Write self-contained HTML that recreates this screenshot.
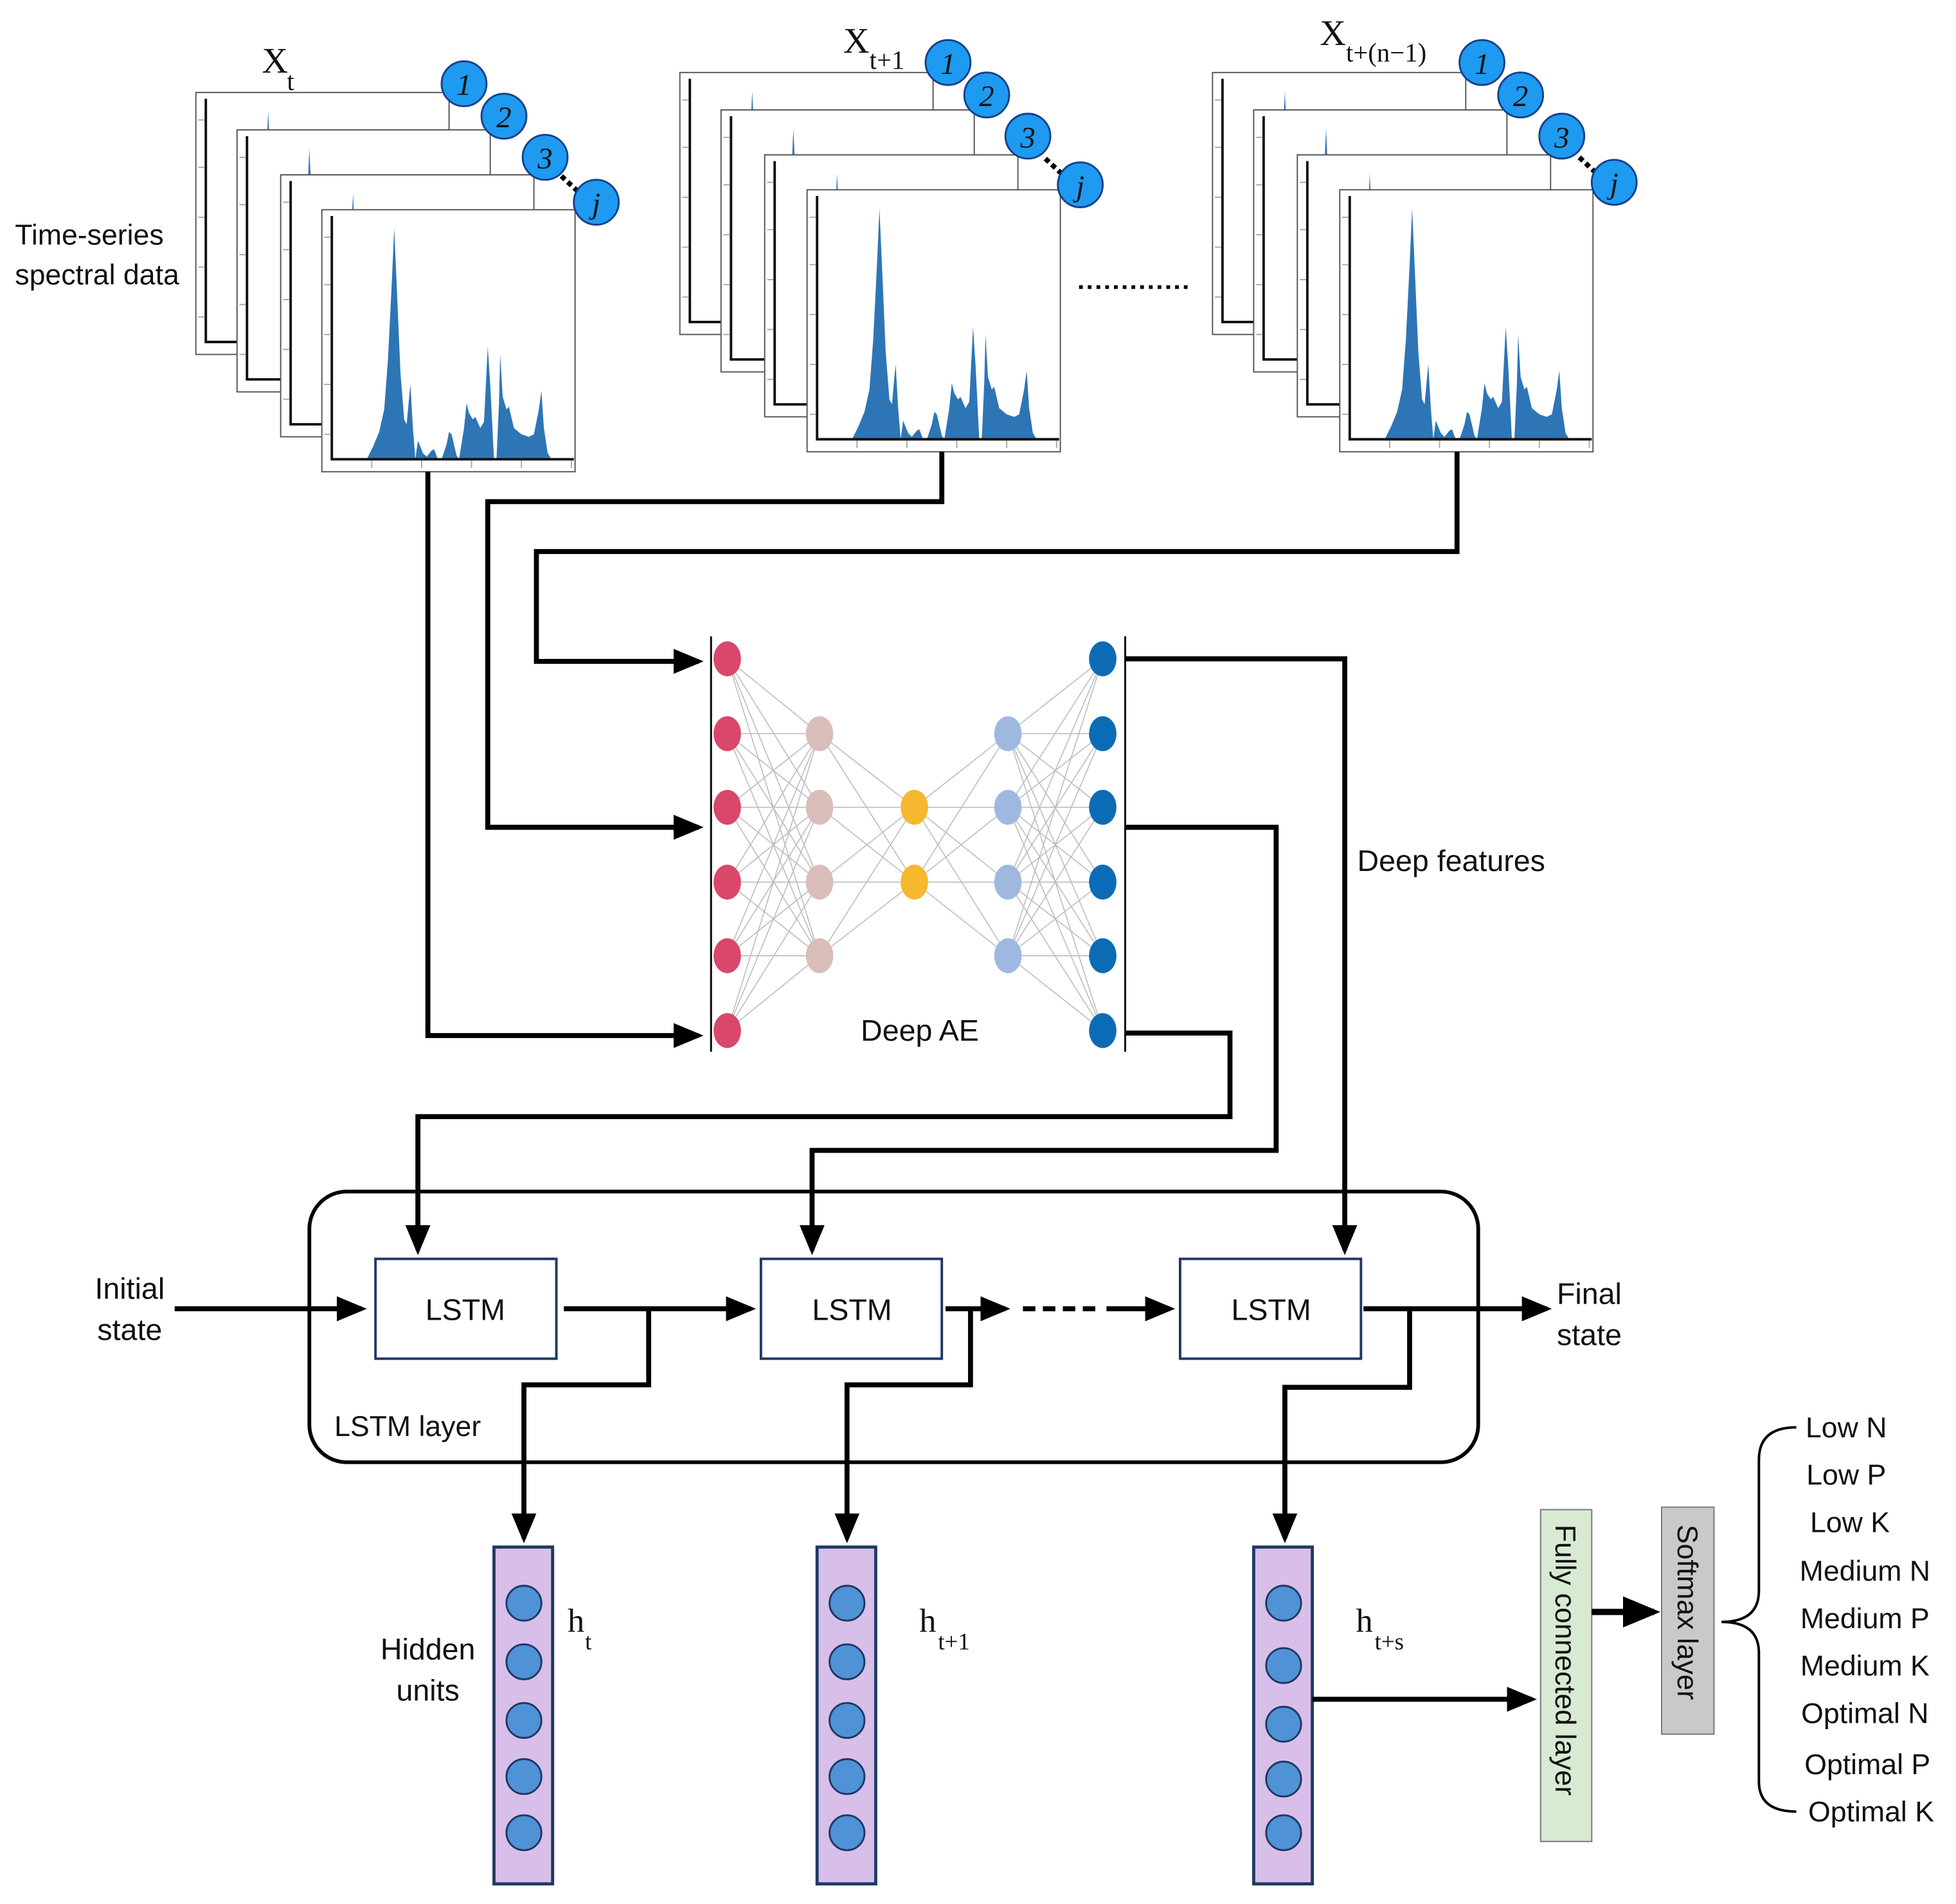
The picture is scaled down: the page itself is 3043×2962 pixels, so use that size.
<!DOCTYPE html>
<html><head><meta charset="utf-8"><style>
html,body{margin:0;padding:0;background:#fff;}
svg{display:block;}
text{font-family:"Liberation Sans",sans-serif;fill:#111;}
.s{font-family:"Liberation Serif",serif;}
</style></head><body>
<svg width="3043" height="2962" viewBox="0 0 1568 1526" xmlns="http://www.w3.org/2000/svg">
<defs>
<marker id="ar" markerWidth="6" markerHeight="6" refX="5" refY="3" orient="auto" markerUnits="strokeWidth">
<path d="M0,0.5 L6,3 L0,5.5 Z" fill="#000"/></marker>
<g id="frame">
<rect x="0" y="0" width="203" height="210" fill="#fff" stroke="#555" stroke-width="1"/>
<path d="M32,200 L34,196 37,190 42,178 46,160 49,120 52,60 54,15 56,60 59,130 62,168 64,172 66,150 67,140 69,175 71,200 73,185 75,190 77,195 80,198 84,193 86,192 89,200 92,200 96,188 98,178 100,180 104,197 106,200 110,175 112,155 114,163 117,168 119,166 123,175 126,170 129,110 131,140 134,200 136,200 138,155 139,116 141,150 144,160 146,158 150,175 156,180 162,182 166,180 170,160 172,145 174,175 177,195 180,200 Z" transform="translate(4,0)" fill="#2e75b6"/>
<path d="M8,5 L8,200 L202,200" fill="none" stroke="#111" stroke-width="2"/>
<path d="M2,22 h5 M2,60 h5 M2,100 h5 M2,140 h5 M2,180 h5 M40,201 v6 M80,201 v6 M120,201 v6 M160,201 v6 M200,201 v6" stroke="#aaa" stroke-width="1"/>
</g>
</defs>

<!-- group 1 -->
<text x="210" y="58" class="s" font-size="29">X</text><text x="230" y="72" class="s" font-size="21">t</text>
<use href="#frame" x="157" y="74"/>
<use href="#frame" x="190" y="104"/>
<use href="#frame" x="225" y="140"/>
<use href="#frame" x="258" y="168"/>
<text x="12" y="196" font-size="23">Time-series</text>
<text x="12" y="228" font-size="23">spectral data</text>
<line x1="450" y1="141" x2="464" y2="154" stroke="#000" stroke-width="4" stroke-dasharray="4,3"/>
<g fill="#1e9af0" stroke="#17408a" stroke-width="1.5">
<circle cx="372" cy="67" r="18"/><circle cx="404" cy="93" r="18"/><circle cx="437" cy="126" r="18"/><circle cx="478" cy="162" r="18"/></g>
<g font-size="24" font-style="italic" text-anchor="middle">
<text x="372" y="76" class="s">1</text><text x="404" y="102" class="s">2</text><text x="437" y="135" class="s">3</text><text x="478" y="171" class="s">j</text></g>

<!-- group 2 -->
<text x="676" y="42" class="s" font-size="29">X</text><text x="697" y="55" class="s" font-size="21">t+1</text>
<use href="#frame" x="545" y="58"/>
<use href="#frame" x="578" y="88"/>
<use href="#frame" x="613" y="124"/>
<use href="#frame" x="647" y="152"/>
<line x1="838" y1="127" x2="852" y2="140" stroke="#000" stroke-width="4" stroke-dasharray="4,3"/>
<g fill="#1e9af0" stroke="#17408a" stroke-width="1.5">
<circle cx="760" cy="50" r="18"/><circle cx="791" cy="76" r="18"/><circle cx="824" cy="109" r="18"/><circle cx="866" cy="148" r="18"/></g>
<g font-size="24" font-style="italic" text-anchor="middle">
<text x="760" y="59" class="s">1</text><text x="791" y="85" class="s">2</text><text x="824" y="118" class="s">3</text><text x="866" y="157" class="s">j</text></g>

<line x1="865" y1="230" x2="956" y2="230" stroke="#000" stroke-width="3" stroke-dasharray="3,4"/>

<!-- group 3 -->
<text x="1058" y="36" class="s" font-size="29">X</text><text x="1079" y="49" class="s" font-size="21">t+(n−1)</text>
<use href="#frame" x="972" y="58"/>
<use href="#frame" x="1005" y="88"/>
<use href="#frame" x="1040" y="124"/>
<use href="#frame" x="1074" y="152"/>
<line x1="1266" y1="126" x2="1280" y2="139" stroke="#000" stroke-width="4" stroke-dasharray="4,3"/>
<g fill="#1e9af0" stroke="#17408a" stroke-width="1.5">
<circle cx="1188" cy="50" r="18"/><circle cx="1219" cy="76" r="18"/><circle cx="1252" cy="109" r="18"/><circle cx="1294" cy="146" r="18"/></g>
<g font-size="24" font-style="italic" text-anchor="middle">
<text x="1188" y="59" class="s">1</text><text x="1219" y="85" class="s">2</text><text x="1252" y="118" class="s">3</text><text x="1294" y="155" class="s">j</text></g>

<!-- connectors to AE -->
<g fill="none" stroke="#000" stroke-width="4">
<path d="M343,378 V830 H560" marker-end="url(#ar)"/>
<path d="M755,362 V402 H391 V663 H560" marker-end="url(#ar)"/>
<path d="M1168,362 V442 H430 V530 H560" marker-end="url(#ar)"/>
</g>

<!-- Deep AE -->
<g stroke="#bbb" stroke-width="0.8">
<path d="M583,528 L657,588 M583,528 L657,647 M583,528 L657,707 M583,528 L657,766
M583,588 L657,588 M583,588 L657,647 M583,588 L657,707 M583,588 L657,766
M583,647 L657,588 M583,647 L657,647 M583,647 L657,707 M583,647 L657,766
M583,707 L657,588 M583,707 L657,647 M583,707 L657,707 M583,707 L657,766
M583,766 L657,588 M583,766 L657,647 M583,766 L657,707 M583,766 L657,766
M583,826 L657,588 M583,826 L657,647 M583,826 L657,707 M583,826 L657,766
M657,588 L733,647 M657,588 L733,707 M657,647 L733,647 M657,647 L733,707
M657,707 L733,647 M657,707 L733,707 M657,766 L733,647 M657,766 L733,707
M733,647 L808,588 M733,647 L808,647 M733,647 L808,707 M733,647 L808,766
M733,707 L808,588 M733,707 L808,647 M733,707 L808,707 M733,707 L808,766
M808,588 L884,528 M808,588 L884,588 M808,588 L884,647 M808,588 L884,707 M808,588 L884,766 M808,588 L884,826
M808,647 L884,528 M808,647 L884,588 M808,647 L884,647 M808,647 L884,707 M808,647 L884,766 M808,647 L884,826
M808,707 L884,528 M808,707 L884,588 M808,707 L884,647 M808,707 L884,707 M808,707 L884,766 M808,707 L884,826
M808,766 L884,528 M808,766 L884,588 M808,766 L884,647 M808,766 L884,707 M808,766 L884,766 M808,766 L884,826"/>
</g>
<line x1="570" y1="510" x2="570" y2="843" stroke="#000" stroke-width="1.5"/>
<line x1="902" y1="510" x2="902" y2="843" stroke="#000" stroke-width="1.5"/>
<g fill="#d9476b"><ellipse cx="583" cy="528" rx="11" ry="14"/><ellipse cx="583" cy="588" rx="11" ry="14"/><ellipse cx="583" cy="647" rx="11" ry="14"/><ellipse cx="583" cy="707" rx="11" ry="14"/><ellipse cx="583" cy="766" rx="11" ry="14"/><ellipse cx="583" cy="826" rx="11" ry="14"/></g>
<g fill="#d9bdb8"><ellipse cx="657" cy="588" rx="11" ry="14"/><ellipse cx="657" cy="647" rx="11" ry="14"/><ellipse cx="657" cy="707" rx="11" ry="14"/><ellipse cx="657" cy="766" rx="11" ry="14"/></g>
<g fill="#f5b82e"><ellipse cx="733" cy="647" rx="11" ry="14"/><ellipse cx="733" cy="707" rx="11" ry="14"/></g>
<g fill="#9fb8e0"><ellipse cx="808" cy="588" rx="11" ry="14"/><ellipse cx="808" cy="647" rx="11" ry="14"/><ellipse cx="808" cy="707" rx="11" ry="14"/><ellipse cx="808" cy="766" rx="11" ry="14"/></g>
<g fill="#0b6cb5"><ellipse cx="884" cy="528" rx="11" ry="14"/><ellipse cx="884" cy="588" rx="11" ry="14"/><ellipse cx="884" cy="647" rx="11" ry="14"/><ellipse cx="884" cy="707" rx="11" ry="14"/><ellipse cx="884" cy="766" rx="11" ry="14"/><ellipse cx="884" cy="826" rx="11" ry="14"/></g>
<text x="690" y="834" font-size="24">Deep AE</text>
<text x="1088" y="698" font-size="24">Deep features</text>

<!-- AE outputs to LSTM -->
<g fill="none" stroke="#000" stroke-width="4">
<path d="M902,528 H1078 V1002" marker-end="url(#ar)"/>
<path d="M902,663 H1023 V922 H651 V1002" marker-end="url(#ar)"/>
<path d="M902,828 H986 V895 H335 V1002" marker-end="url(#ar)"/>
</g>

<!-- LSTM layer -->
<rect x="248" y="955" width="937" height="217" rx="30" fill="none" stroke="#000" stroke-width="3"/>
<g fill="#fff" stroke="#1f3864" stroke-width="2">
<rect x="301" y="1009" width="145" height="80"/><rect x="610" y="1009" width="145" height="80"/><rect x="946" y="1009" width="145" height="80"/></g>
<g font-size="24" text-anchor="middle"><text x="373" y="1058">LSTM</text><text x="683" y="1058">LSTM</text><text x="1019" y="1058">LSTM</text></g>
<g fill="none" stroke="#000" stroke-width="4">
<path d="M140,1049 H290" marker-end="url(#ar)"/>
<path d="M452,1049 H602" marker-end="url(#ar)"/>
<path d="M758,1049 H806" marker-end="url(#ar)"/>
<path d="M820,1049 H880" stroke-dasharray="10,6"/>
<path d="M887,1049 H938" marker-end="url(#ar)"/>
<path d="M1093,1049 H1240" marker-end="url(#ar)"/>
<path d="M520,1049 V1110 H420 V1233" marker-end="url(#ar)"/>
<path d="M778,1049 V1110 H679 V1233" marker-end="url(#ar)"/>
<path d="M1130,1049 V1112 H1030 V1233" marker-end="url(#ar)"/>
</g>
<g font-size="24" text-anchor="middle">
<text x="104" y="1041">Initial</text><text x="104" y="1074">state</text>
<text x="1274" y="1045">Final</text><text x="1274" y="1078">state</text>
<text x="343" y="1330">Hidden</text><text x="343" y="1363">units</text>
</g>
<text x="268" y="1151" font-size="23">LSTM layer</text>

<!-- hidden columns -->
<g fill="#d8bfe9" stroke="#1f3864" stroke-width="2.5">
<rect x="396" y="1240" width="47" height="270"/><rect x="655" y="1240" width="47" height="270"/><rect x="1005" y="1240" width="47" height="270"/></g>
<g fill="#4f92d6" stroke="#1f3864" stroke-width="1.5">
<circle cx="420" cy="1285" r="14"/><circle cx="420" cy="1332" r="14"/><circle cx="420" cy="1379" r="14"/><circle cx="420" cy="1424" r="14"/><circle cx="420" cy="1469" r="14"/>
<circle cx="679" cy="1285" r="14"/><circle cx="679" cy="1332" r="14"/><circle cx="679" cy="1379" r="14"/><circle cx="679" cy="1424" r="14"/><circle cx="679" cy="1469" r="14"/>
<circle cx="1029" cy="1285" r="14"/><circle cx="1029" cy="1335" r="14"/><circle cx="1029" cy="1382" r="14"/><circle cx="1029" cy="1426" r="14"/><circle cx="1029" cy="1469" r="14"/>
</g>
<text x="455" y="1308" class="s" font-size="27">h</text><text x="469" y="1322" class="s" font-size="19">t</text>
<text x="737" y="1308" class="s" font-size="27">h</text><text x="752" y="1322" class="s" font-size="19">t+1</text>
<text x="1087" y="1308" class="s" font-size="27">h</text><text x="1102" y="1322" class="s" font-size="19">t+s</text>

<path d="M1052,1362 H1228" fill="none" stroke="#000" stroke-width="4" marker-end="url(#ar)"/>
<rect x="1235" y="1210" width="41" height="266" fill="#d9ead3" stroke="#777" stroke-width="1"/>
<text transform="translate(1247,1222) rotate(90)" font-size="23">Fully connected layer</text>
<path d="M1276,1292 H1326" fill="none" stroke="#000" stroke-width="5" marker-end="url(#ar)"/>
<rect x="1332" y="1208" width="42" height="182" fill="#c9c9c9" stroke="#777" stroke-width="1"/>
<text transform="translate(1345,1222) rotate(90)" font-size="23">Softmax layer</text>
<path d="M1440,1144 Q1410,1144 1410,1170 V1275 Q1410,1300 1380,1300 Q1410,1300 1410,1325 V1428 Q1410,1452 1440,1452" fill="none" stroke="#000" stroke-width="2"/>
<g font-size="23" text-anchor="middle">
<text x="1480" y="1152">Low N</text><text x="1480" y="1190">Low P</text><text x="1483" y="1228">Low K</text>
<text x="1495" y="1267">Medium N</text><text x="1495" y="1305">Medium P</text><text x="1495" y="1343">Medium K</text>
<text x="1495" y="1381">Optimal N</text><text x="1497" y="1422">Optimal P</text><text x="1500" y="1460">Optimal K</text>
</g>
</svg>
</body></html>
